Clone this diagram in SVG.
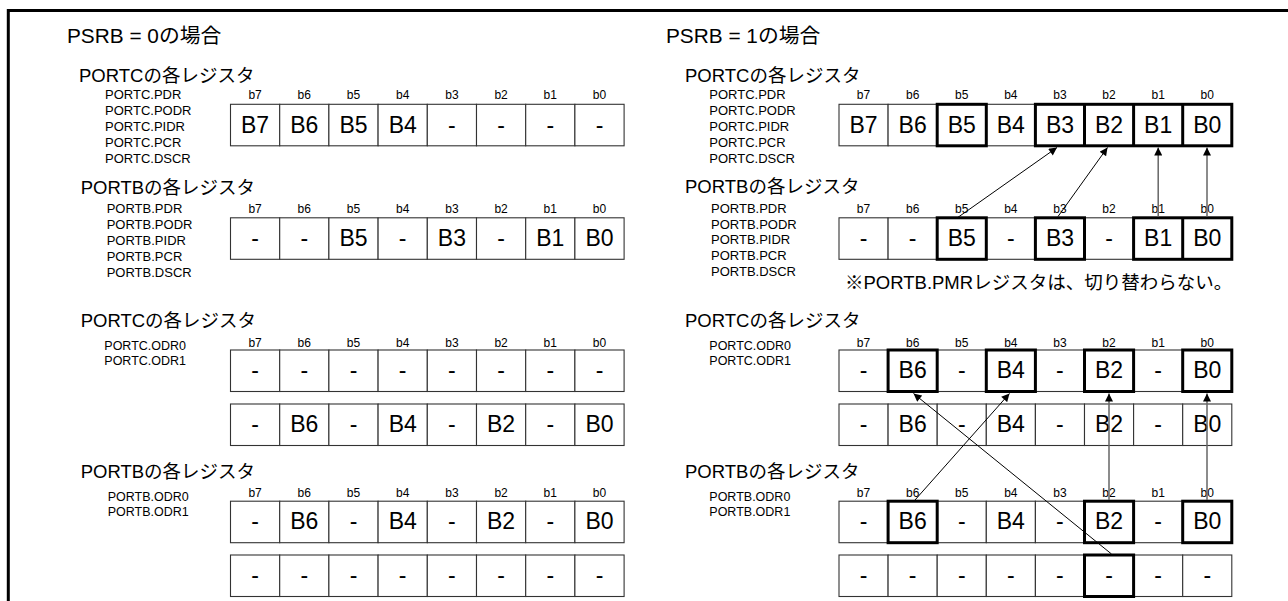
<svg xmlns="http://www.w3.org/2000/svg" width="1288" height="601" viewBox="0 0 1288 601">
<style>
text{font-family:"Liberation Sans",Arial,"Noto Sans CJK JP",sans-serif;fill:#000}
.t1{font-size:20.8px}
.t2{font-size:18.5px}
.lb{font-size:13px}
.lo{font-size:12.5px}
.bit{font-size:12px;text-anchor:middle}
.cv{font-size:23px;text-anchor:middle}
.c{fill:#fff;stroke:#333;stroke-width:1.1}
.k{fill:none;stroke:#000;stroke-width:3}
.frame{stroke:#000;stroke-width:3;fill:none}
.ad{stroke:#000;stroke-width:1;fill:none}
.av{stroke:#666;stroke-width:1.5;fill:none}
.note{font-size:18.5px}
</style>
<defs>
<marker id="ah" viewBox="0 0 10 10" refX="10" refY="5" markerWidth="9" markerHeight="8" markerUnits="userSpaceOnUse" orient="auto">
<path d="M0,0 L10,5 L0,10 z" fill="#000"/>
</marker>
<g id="row8L">
<rect class="c" x="0" y="0" width="49.2" height="41.5"/>
<rect class="c" x="49.2" y="0" width="49.2" height="41.5"/>
<rect class="c" x="98.4" y="0" width="49.2" height="41.5"/>
<rect class="c" x="147.6" y="0" width="49.2" height="41.5"/>
<rect class="c" x="196.8" y="0" width="49.2" height="41.5"/>
<rect class="c" x="246" y="0" width="49.2" height="41.5"/>
<rect class="c" x="295.2" y="0" width="49.2" height="41.5"/>
<rect class="c" x="344.4" y="0" width="49.2" height="41.5"/>
</g>
<g id="row8R">
<rect class="c" x="0" y="0" width="49.1" height="41.5"/>
<rect class="c" x="49.1" y="0" width="49.1" height="41.5"/>
<rect class="c" x="98.2" y="0" width="49.1" height="41.5"/>
<rect class="c" x="147.3" y="0" width="49.1" height="41.5"/>
<rect class="c" x="196.4" y="0" width="49.1" height="41.5"/>
<rect class="c" x="245.5" y="0" width="49.1" height="41.5"/>
<rect class="c" x="294.6" y="0" width="49.1" height="41.5"/>
<rect class="c" x="343.7" y="0" width="49.1" height="41.5"/>
</g>
<g id="bitsL">
<text class="bit" x="24.6">b7</text><text class="bit" x="73.8">b6</text><text class="bit" x="123">b5</text><text class="bit" x="172.2">b4</text><text class="bit" x="221.4">b3</text><text class="bit" x="270.6">b2</text><text class="bit" x="319.8">b1</text><text class="bit" x="369">b0</text>
</g>
<g id="bitsR">
<text class="bit" x="24.55">b7</text><text class="bit" x="73.65">b6</text><text class="bit" x="122.75">b5</text><text class="bit" x="171.85">b4</text><text class="bit" x="220.95">b3</text><text class="bit" x="270.05">b2</text><text class="bit" x="319.15">b1</text><text class="bit" x="368.25">b0</text>
</g>
</defs>
<rect width="1288" height="601" fill="#fff"/>
<path class="frame" d="M8.3,601 L8.3,10.5 L1288,10.5"/>

<g id="titles">
<text class="t1" x="67" y="43">PSRB = 0の場合</text>
<text class="t1" x="666" y="43">PSRB = 1の場合</text>
</g>

<!-- LEFT SIDE -->
<g id="L-portc-top">
<text class="t2" x="79" y="81.7">PORTCの各レジスタ</text>
<text class="lb" x="105" y="99.3">PORTC.PDR</text>
<text class="lb" x="105" y="115.1">PORTC.PODR</text>
<text class="lb" x="105" y="130.9">PORTC.PIDR</text>
<text class="lb" x="105" y="146.7">PORTC.PCR</text>
<text class="lb" x="105" y="162.5">PORTC.DSCR</text>
<use href="#bitsL" x="230.5" y="99"/>
<g transform="translate(230.5,104.3)">
<use href="#row8L"/>
<text class="cv" y="28.3" x="24.6">B7</text><text class="cv" y="28.3" x="73.8">B6</text><text class="cv" y="28.3" x="123">B5</text><text class="cv" y="28.3" x="172.2">B4</text><text class="cv" y="28.3" x="221.4">-</text><text class="cv" y="28.3" x="270.6">-</text><text class="cv" y="28.3" x="319.8">-</text><text class="cv" y="28.3" x="369">-</text>
</g>
</g>

<g id="L-portb-top">
<text class="t2" x="80.7" y="194">PORTBの各レジスタ</text>
<text class="lb" x="106.7" y="213.3">PORTB.PDR</text>
<text class="lb" x="106.7" y="229.1">PORTB.PODR</text>
<text class="lb" x="106.7" y="244.9">PORTB.PIDR</text>
<text class="lb" x="106.7" y="260.7">PORTB.PCR</text>
<text class="lb" x="106.7" y="276.5">PORTB.DSCR</text>
<use href="#bitsL" x="230.5" y="213"/>
<g transform="translate(230.5,217.8)">
<use href="#row8L"/>
<text class="cv" y="28.3" x="24.6">-</text><text class="cv" y="28.3" x="73.8">-</text><text class="cv" y="28.3" x="123">B5</text><text class="cv" y="28.3" x="172.2">-</text><text class="cv" y="28.3" x="221.4">B3</text><text class="cv" y="28.3" x="270.6">-</text><text class="cv" y="28.3" x="319.8">B1</text><text class="cv" y="28.3" x="369">B0</text>
</g>
</g>

<g id="L-portc-odr">
<text class="t2" x="80.7" y="326.7">PORTCの各レジスタ</text>
<text class="lo" x="104.3" y="350">PORTC.ODR0</text>
<text class="lo" x="104.3" y="364.5">PORTC.ODR1</text>
<use href="#bitsL" x="230.5" y="346.5"/>
<g transform="translate(230.5,350)">
<use href="#row8L"/>
<text class="cv" y="28.3" x="24.6">-</text><text class="cv" y="28.3" x="73.8">-</text><text class="cv" y="28.3" x="123">-</text><text class="cv" y="28.3" x="172.2">-</text><text class="cv" y="28.3" x="221.4">-</text><text class="cv" y="28.3" x="270.6">-</text><text class="cv" y="28.3" x="319.8">-</text><text class="cv" y="28.3" x="369">-</text>
</g>
<g transform="translate(230.5,404)">
<use href="#row8L"/>
<text class="cv" y="28.3" x="24.6">-</text><text class="cv" y="28.3" x="73.8">B6</text><text class="cv" y="28.3" x="123">-</text><text class="cv" y="28.3" x="172.2">B4</text><text class="cv" y="28.3" x="221.4">-</text><text class="cv" y="28.3" x="270.6">B2</text><text class="cv" y="28.3" x="319.8">-</text><text class="cv" y="28.3" x="369">B0</text>
</g>
</g>

<g id="L-portb-odr">
<text class="t2" x="80.7" y="478.3">PORTBの各レジスタ</text>
<text class="lo" x="107.7" y="501">PORTB.ODR0</text>
<text class="lo" x="107.7" y="515.5">PORTB.ODR1</text>
<use href="#bitsL" x="230.5" y="496.7"/>
<g transform="translate(230.5,501.2)">
<use href="#row8L"/>
<text class="cv" y="28.3" x="24.6">-</text><text class="cv" y="28.3" x="73.8">B6</text><text class="cv" y="28.3" x="123">-</text><text class="cv" y="28.3" x="172.2">B4</text><text class="cv" y="28.3" x="221.4">-</text><text class="cv" y="28.3" x="270.6">B2</text><text class="cv" y="28.3" x="319.8">-</text><text class="cv" y="28.3" x="369">B0</text>
</g>
<g transform="translate(230.5,555)">
<use href="#row8L"/>
<text class="cv" y="28.3" x="24.6">-</text><text class="cv" y="28.3" x="73.8">-</text><text class="cv" y="28.3" x="123">-</text><text class="cv" y="28.3" x="172.2">-</text><text class="cv" y="28.3" x="221.4">-</text><text class="cv" y="28.3" x="270.6">-</text><text class="cv" y="28.3" x="319.8">-</text><text class="cv" y="28.3" x="369">-</text>
</g>
</g>

<!-- RIGHT SIDE -->
<g id="R-portc-top">
<text class="t2" x="685" y="81.7">PORTCの各レジスタ</text>
<text class="lb" x="709.3" y="99.3">PORTC.PDR</text>
<text class="lb" x="709.3" y="115.1">PORTC.PODR</text>
<text class="lb" x="709.3" y="130.9">PORTC.PIDR</text>
<text class="lb" x="709.3" y="146.7">PORTC.PCR</text>
<text class="lb" x="709.3" y="162.5">PORTC.DSCR</text>
<use href="#bitsR" x="839" y="99"/>
<g transform="translate(839,104.3)">
<use href="#row8R"/>
<rect class="k" x="98.2" y="0" width="49.1" height="41.5"/>
<rect class="k" x="196.4" y="0" width="196.4" height="41.5"/>
<line class="k" x1="245.5" y1="0" x2="245.5" y2="41.5"/>
<line class="k" x1="294.6" y1="0" x2="294.6" y2="41.5"/>
<line class="k" x1="343.7" y1="0" x2="343.7" y2="41.5"/>
<text class="cv" y="28.3" x="24.55">B7</text><text class="cv" y="28.3" x="73.65">B6</text><text class="cv" y="28.3" x="122.75">B5</text><text class="cv" y="28.3" x="171.85">B4</text><text class="cv" y="28.3" x="220.95">B3</text><text class="cv" y="28.3" x="270.05">B2</text><text class="cv" y="28.3" x="319.15">B1</text><text class="cv" y="28.3" x="368.25">B0</text>
</g>
</g>

<g id="R-portb-top">
<text class="t2" x="685" y="193.3">PORTBの各レジスタ</text>
<text class="lb" x="711" y="212.7">PORTB.PDR</text>
<text class="lb" x="711" y="228.5">PORTB.PODR</text>
<text class="lb" x="711" y="244.3">PORTB.PIDR</text>
<text class="lb" x="711" y="260.1">PORTB.PCR</text>
<text class="lb" x="711" y="275.9">PORTB.DSCR</text>
<use href="#bitsR" x="839" y="213"/>
<g transform="translate(839,217.8)">
<use href="#row8R"/>
<rect class="k" x="98.2" y="0" width="49.1" height="41.5"/>
<rect class="k" x="196.4" y="0" width="49.1" height="41.5"/>
<rect class="k" x="294.6" y="0" width="98.2" height="41.5"/>
<line class="k" x1="343.7" y1="0" x2="343.7" y2="41.5"/>
<text class="cv" y="28.3" x="24.55">-</text><text class="cv" y="28.3" x="73.65">-</text><text class="cv" y="28.3" x="122.75">B5</text><text class="cv" y="28.3" x="171.85">-</text><text class="cv" y="28.3" x="220.95">B3</text><text class="cv" y="28.3" x="270.05">-</text><text class="cv" y="28.3" x="319.15">B1</text><text class="cv" y="28.3" x="368.25">B0</text>
</g>
<text class="note" x="845" y="289">※PORTB.PMRレジスタは、切り替わらない。</text>
</g>

<g id="R-portc-odr">
<text class="t2" x="685" y="326.7">PORTCの各レジスタ</text>
<text class="lo" x="709.3" y="350">PORTC.ODR0</text>
<text class="lo" x="709.3" y="364.5">PORTC.ODR1</text>
<use href="#bitsR" x="839" y="346.5"/>
<g transform="translate(839,350)">
<use href="#row8R"/>
<rect class="k" x="49.1" y="0" width="49.1" height="41.5"/>
<rect class="k" x="147.3" y="0" width="49.1" height="41.5"/>
<rect class="k" x="245.5" y="0" width="49.1" height="41.5"/>
<rect class="k" x="343.7" y="0" width="49.1" height="41.5"/>
<text class="cv" y="28.3" x="24.55">-</text><text class="cv" y="28.3" x="73.65">B6</text><text class="cv" y="28.3" x="122.75">-</text><text class="cv" y="28.3" x="171.85">B4</text><text class="cv" y="28.3" x="220.95">-</text><text class="cv" y="28.3" x="270.05">B2</text><text class="cv" y="28.3" x="319.15">-</text><text class="cv" y="28.3" x="368.25">B0</text>
</g>
<g transform="translate(839,404)">
<use href="#row8R"/>
<text class="cv" y="28.3" x="24.55">-</text><text class="cv" y="28.3" x="73.65">B6</text><text class="cv" y="28.3" x="122.75">-</text><text class="cv" y="28.3" x="171.85">B4</text><text class="cv" y="28.3" x="220.95">-</text><text class="cv" y="28.3" x="270.05">B2</text><text class="cv" y="28.3" x="319.15">-</text><text class="cv" y="28.3" x="368.25">B0</text>
</g>
</g>

<g id="R-portb-odr">
<text class="t2" x="685" y="478.3">PORTBの各レジスタ</text>
<text class="lo" x="709.3" y="501">PORTB.ODR0</text>
<text class="lo" x="709.3" y="515.5">PORTB.ODR1</text>
<use href="#bitsR" x="839" y="496.7"/>
<g transform="translate(839,501.2)">
<use href="#row8R"/>
<rect class="k" x="49.1" y="0" width="49.1" height="41.5"/>
<rect class="k" x="245.5" y="0" width="49.1" height="41.5"/>
<rect class="k" x="343.7" y="0" width="49.1" height="41.5"/>
<text class="cv" y="28.3" x="24.55">-</text><text class="cv" y="28.3" x="73.65">B6</text><text class="cv" y="28.3" x="122.75">-</text><text class="cv" y="28.3" x="171.85">B4</text><text class="cv" y="28.3" x="220.95">-</text><text class="cv" y="28.3" x="270.05">B2</text><text class="cv" y="28.3" x="319.15">-</text><text class="cv" y="28.3" x="368.25">B0</text>
</g>
<g transform="translate(839,555)">
<use href="#row8R"/>
<rect class="k" x="245.5" y="0" width="49.1" height="41.5"/>
<text class="cv" y="28.3" x="24.55">-</text><text class="cv" y="28.3" x="73.65">-</text><text class="cv" y="28.3" x="122.75">-</text><text class="cv" y="28.3" x="171.85">-</text><text class="cv" y="28.3" x="220.95">-</text><text class="cv" y="28.3" x="270.05">-</text><text class="cv" y="28.3" x="319.15">-</text><text class="cv" y="28.3" x="368.25">-</text>
</g>
</g>

<g id="connectors">
<line class="ad" x1="957" y1="218" x2="1057" y2="147.5" marker-end="url(#ah)"/>
<line class="ad" x1="1058" y1="216.5" x2="1107.5" y2="147.5" marker-end="url(#ah)"/>
<line class="av" x1="1158.2" y1="216.5" x2="1158.2" y2="147.5" marker-end="url(#ah)"/>
<line class="av" x1="1207" y1="216.5" x2="1207" y2="147.5" marker-end="url(#ah)"/>
<line class="ad" x1="915" y1="500" x2="1009.5" y2="393.5" marker-end="url(#ah)"/>
<line class="ad" x1="1111.5" y1="554" x2="913.5" y2="393.5" marker-end="url(#ah)"/>
<line class="av" x1="1109" y1="500" x2="1109" y2="393.5" marker-end="url(#ah)"/>
<line class="av" x1="1207" y1="500" x2="1207" y2="393.5" marker-end="url(#ah)"/>
</g>
</svg>
